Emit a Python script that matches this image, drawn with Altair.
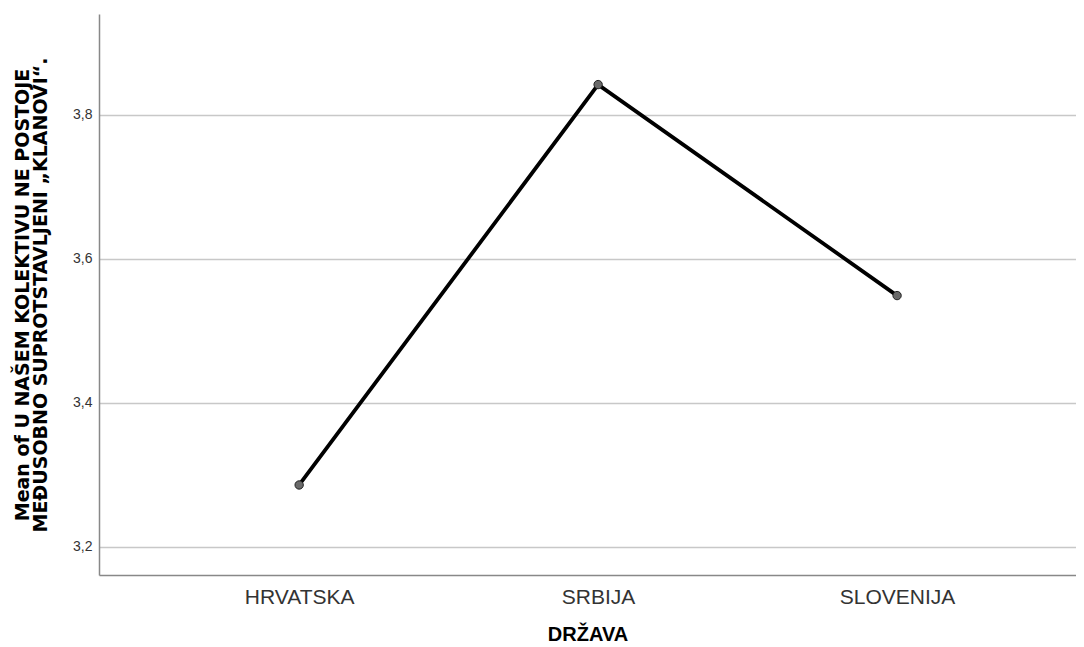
import altair as alt
import pandas as pd

countries = ["HRVATSKA", "SRBIJA", "SLOVENIJA"]
means = [3.286, 3.842, 3.549]

df = pd.DataFrame({"country": countries, "mean": means})

y_title = ["Mean of U NAŠEM KOLEKTIVU NE POSTOJE", "MEĐUSOBNO SUPROTSTAVLJENI „KLANOVI“."]

x_enc = alt.X("country:N", sort=countries,
              scale=alt.Scale(type="point", padding=0.634, align=0.528),
              axis=alt.Axis(title="DRŽAVA", labelAngle=0, labelFont="Liberation Sans",
                            labelFontSize=21, labelColor="#333333", labelPadding=11,
                            titleFont="Liberation Sans", titleFontSize=20, titleFontWeight="bold",
                            titleColor="#000000", titlePadding=17,
                            ticks=False, domainColor="#888888", domainWidth=1.5, grid=False))
y_enc = alt.Y("mean:Q",
              scale=alt.Scale(domain=[3.161, 3.940], nice=False, zero=False),
              axis=alt.Axis(title=y_title, values=[3.2, 3.4, 3.6, 3.8],
                            labelExpr="replace(format(datum.value, '.1f'), '.', ',')",
                            labelFont="Liberation Sans", labelFontSize=14, labelColor="#333333",
                            labelPadding=7, ticks=False,
                            domainColor="#888888", domainWidth=1.5,
                            grid=True, gridColor="#c8c8c8", gridWidth=1.5,
                            titleFont="DejaVu Sans", titleFontSize=19, titleFontWeight="bold",
                            titleColor="#000000", titlePadding=22, titleLineHeight=18))

line = alt.Chart(df).mark_line(color="#000000", strokeWidth=3.8).encode(x=x_enc, y=y_enc)
pts = alt.Chart(df).mark_point(filled=True, fill="#6a6a6a", stroke="#222222", strokeWidth=1,
                               size=70, opacity=1).encode(x=x_enc, y=y_enc)

chart = (line + pts).properties(
    width=977, height=561,
    autosize=alt.AutoSizeParams(type="none"),
    padding={"left": 91, "top": 6, "right": 0, "bottom": 72},
    background="white",
).configure_view(stroke=None)

chart.save("out.html", embed_options={"renderer": "svg", "actions": False})
